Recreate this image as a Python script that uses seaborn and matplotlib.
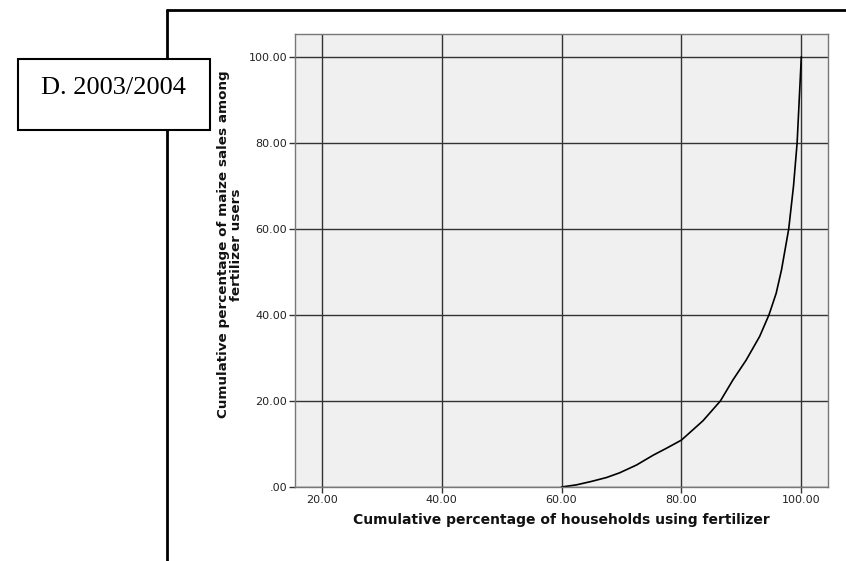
import matplotlib
matplotlib.use("Agg")
import matplotlib.pyplot as plt
import seaborn as sns
import pandas as pd
from matplotlib.lines import Line2D
from matplotlib.patches import Rectangle
from matplotlib.ticker import FuncFormatter

# Values (Lorenz-type cumulative curve)
households_pct = [60.0, 62.5, 65.0, 67.5, 69.7, 72.5, 75.3, 77.5, 80.0, 83.6, 86.5,
                  88.6, 90.8, 93.05, 94.6, 95.8, 96.7, 97.9, 98.7, 99.3, 99.65, 100.0]
maize_sales_pct = [0.0, 0.5, 1.3, 2.2, 3.3, 5.1, 7.4, 9.0, 10.9, 15.4, 20.0,
                   24.9, 29.5, 35.0, 40.0, 45.0, 50.5, 60.0, 70.0, 80.0, 90.0, 100.0]
x_ticks = [20, 40, 60, 80, 100]
y_ticks = [0, 20, 40, 60, 80, 100]
panel_label = "D. 2003/2004"

df = pd.DataFrame({"households": households_pct, "sales": maize_sales_pct})

sns.set_style("white", {"axes.facecolor": "#f0f0f0", "axes.edgecolor": "#777777"})
plt.rcParams["font.family"] = ["DejaVu Sans"]

fig = plt.figure(figsize=(8.46, 5.61), dpi=100)
ax = fig.add_axes([295 / 846, 1 - 487 / 561, 533 / 846, 453 / 561])

sns.lineplot(data=df, x="households", y="sales", ax=ax, color="black",
             linewidth=1.2, sort=True)

ax.set_xlim(15.55, 104.45)
ax.set_ylim(0, 105.3)
ax.set_xticks(x_ticks)
ax.set_yticks(y_ticks)
fmt = FuncFormatter(lambda v, p: ("%.2f" % v).lstrip("0") if v < 1 else "%.2f" % v)
ax.xaxis.set_major_formatter(fmt)
ax.yaxis.set_major_formatter(fmt)
ax.tick_params(axis="both", direction="out", length=4, width=1, color="#333333",
               labelsize=8, labelcolor="#222222", pad=1.5, bottom=True, left=True)
ax.grid(True, color="#333333", linewidth=1)
ax.set_axisbelow(True)
for s in ax.spines.values():
    s.set_linewidth(1)
    s.set_color("#777777")

ax.set_xlabel("Cumulative percentage of households using fertilizer",
              fontsize=10, fontweight="bold", color="#111111", labelpad=6)
ax.set_ylabel("Cumulative percentage of maize sales among\nfertilizer users",
              fontsize=9.7, fontweight="bold", color="#111111", linespacing=0.95)
ax.yaxis.set_label_coords(-0.098, 0.535)

# outer frame (left and top edges of the enclosing box)
fx = 167 / 846
fy = 1 - 10 / 561
fig.add_artist(Line2D([fx, fx], [0, fy], color="black", linewidth=2))
fig.add_artist(Line2D([fx, 1], [fy, fy], color="black", linewidth=2))

# panel label box
bx0, bx1 = 17.5 / 846, 209.5 / 846
by0, by1 = 1 - 130 / 561, 1 - 58.5 / 561
fig.add_artist(Rectangle((bx0, by0), bx1 - bx0, by1 - by0, transform=fig.transFigure,
                         facecolor="white", edgecolor="black", linewidth=1.5, zorder=5))
fig.text((bx0 + bx1) / 2, 1 - 94.3 / 561, panel_label, ha="center", va="baseline",
         fontsize=19, family=["Liberation Serif"], color="black", zorder=6)

fig.savefig("out.png", dpi=100)
